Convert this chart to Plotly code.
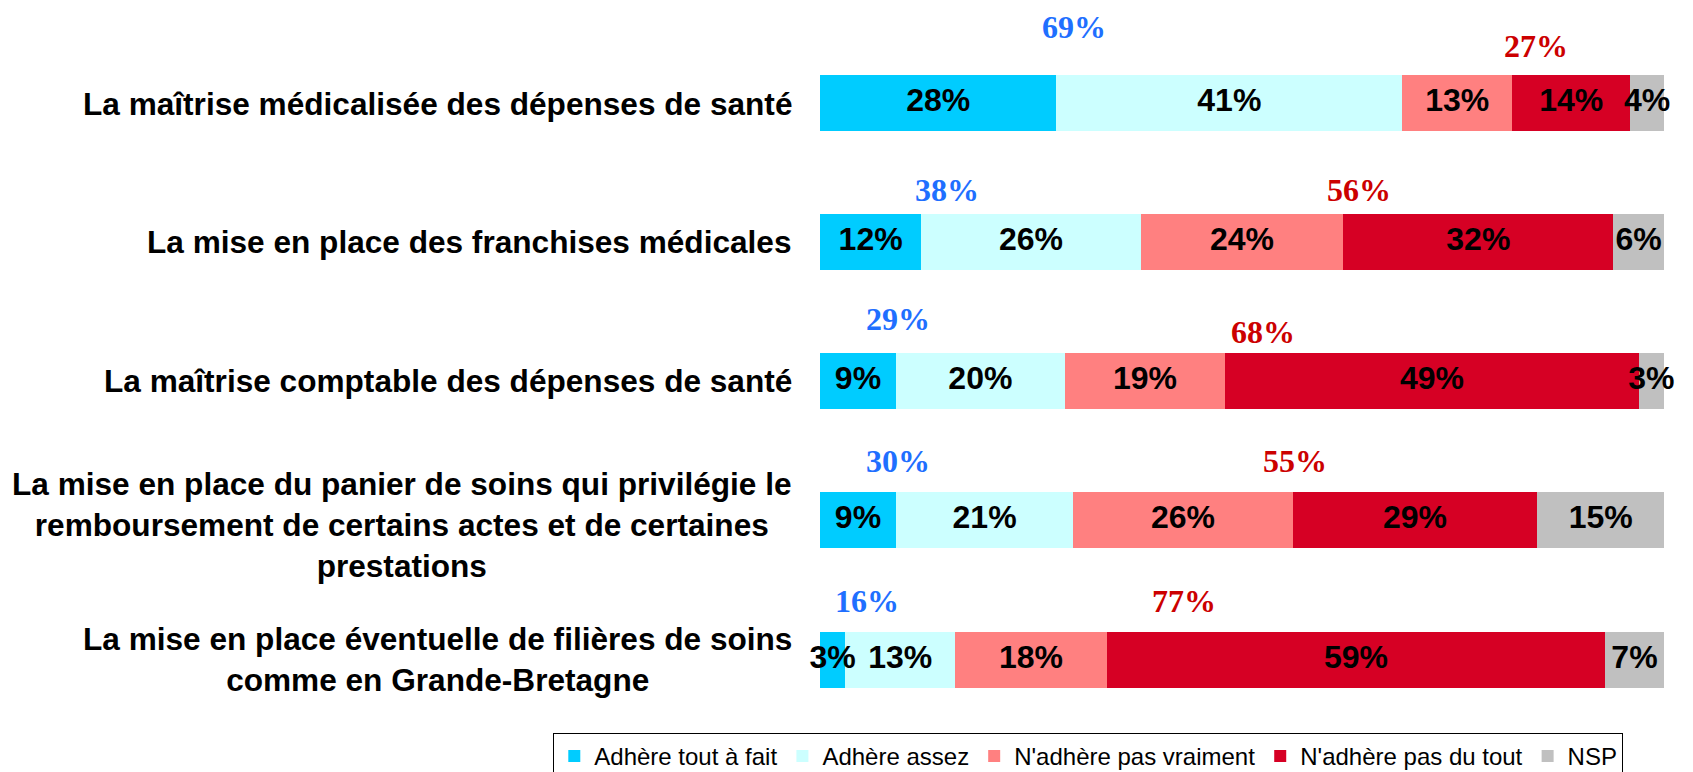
import plotly.graph_objects as go

categories = [
    "La maîtrise médicalisée des dépenses de santé",
    "La mise en place des franchises médicales",
    "La maîtrise comptable des dépenses de santé",
    "La mise en place du panier de soins qui privilégie le<br>remboursement de certains actes et de certaines<br>prestations",
    "La mise en place éventuelle de filières de soins<br>comme en Grande-Bretagne",
]
series_names = ["Adhère tout à fait", "Adhère assez", "N'adhère pas vraiment", "N'adhère pas du tout", "NSP"]
tout_a_fait = [28, 12, 9, 9, 3]
assez = [41, 26, 20, 21, 13]
pas_vraiment = [13, 24, 19, 26, 18]
pas_du_tout = [14, 32, 49, 29, 59]
nsp = [4, 6, 3, 15, 7]

colors = ["#00CCFF", "#CCFFFF", "#FF8080", "#D60024", "#C0C0C0"]

# layout positions of the total labels (x in %, y offset in rows)
pos_x_pos = [30.1, 15.0, 9.3, 9.3, 5.6]
pos_y_off = [-0.545, -0.375, -0.445, -0.425, -0.42]
neg_x_pos = [84.8, 63.9, 52.5, 56.3, 43.1]
neg_y_off = [-0.41, -0.375, -0.35, -0.425, -0.42]
label_y_off = [0.01, 0.0, 0.0, 0.035, 0.0]

rows = list(range(len(categories)))
series = [tout_a_fait, assez, pas_vraiment, pas_du_tout, nsp]

fig = go.Figure()
for name, vals, col in zip(series_names, series, colors):
    fig.add_bar(
        y=rows, x=vals, orientation="h", name=name,
        marker=dict(color=col, line=dict(width=0)),
        width=0.402,
        hoverinfo="skip",
    )

# segment value labels drawn on top of all bars
lab_x, lab_y, lab_t = [], [], []
for i in rows:
    cum = 0
    for vals in series:
        v = vals[i]
        lab_x.append(cum + v / 2)
        lab_y.append(i)
        lab_t.append(f"{v}%")
        cum += v
fig.add_scatter(
    x=lab_x, y=lab_y, text=lab_t, mode="text", showlegend=False,
    cliponaxis=False, hoverinfo="skip",
    textfont=dict(family="Liberation Sans", size=32, color="black", weight="bold"),
)

annotations = []
for i, cat in enumerate(categories):
    annotations.append(dict(
        x=-0.0308, xref="paper", y=i + label_y_off[i], yref="y", text=cat,
        showarrow=False, xanchor="right", yanchor="middle", align="center",
        font=dict(family="Liberation Sans", size=31.6, color="black", weight="bold"),
    ))
    pos_total = tout_a_fait[i] + assez[i]
    neg_total = pas_vraiment[i] + pas_du_tout[i]
    annotations.append(dict(
        x=pos_x_pos[i], xref="x", y=i + pos_y_off[i], yref="y", text=f"{pos_total}%",
        showarrow=False, xanchor="center", yanchor="middle",
        font=dict(family="Liberation Serif", size=32, color="#1F6FFF", weight="bold"),
    ))
    annotations.append(dict(
        x=neg_x_pos[i], xref="x", y=i + neg_y_off[i], yref="y", text=f"{neg_total}%",
        showarrow=False, xanchor="center", yanchor="middle",
        font=dict(family="Liberation Serif", size=32, color="#CC0000", weight="bold"),
    ))

fig.update_layout(
    width=1693, height=772,
    barmode="stack", bargap=0,
    plot_bgcolor="white", paper_bgcolor="white",
    margin=dict(l=820, r=29, t=0, b=42, autoexpand=False),
    xaxis=dict(range=[0, 100], visible=False),
    yaxis=dict(range=[4.505, -0.737], visible=False),
    showlegend=True,
    legend=dict(
        orientation="h", traceorder="normal",
        x=-0.316, xanchor="left", y=-0.004, yanchor="top",
        font=dict(family="Liberation Sans", size=24, color="black"),
        bordercolor="black", borderwidth=1, bgcolor="white",
        itemwidth=30,
    ),
    annotations=annotations,
)

fig.write_html("out.html", config={"displayModeBar": False},
               post_script="document.body.style.margin='0';")
